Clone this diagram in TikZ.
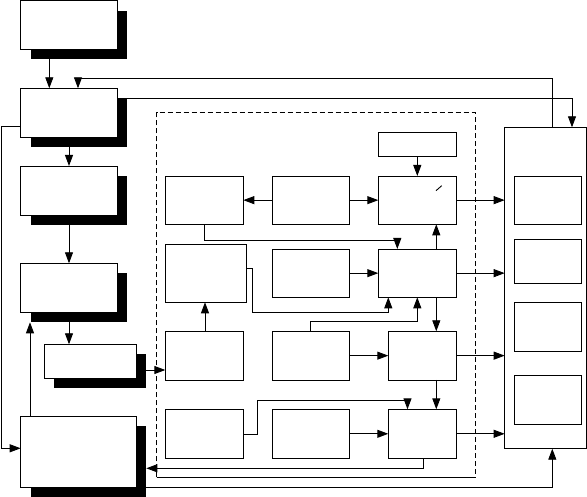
\documentclass[tikz,border=0pt]{standalone}
\usetikzlibrary{arrows.meta}

\begin{document}
\begin{tikzpicture}[x=1pt,y=-1pt,line width=0.9pt,
  blk/.style={draw=black,fill=white,inner sep=0pt,outer sep=0pt},
  shd/.style={fill=black,inner sep=0pt,outer sep=0pt},
  arr/.style={-{Triangle[length=11pt,width=8pt]}},
  frame/.style={dash pattern=on 5pt off 3pt}]
\def\blk#1#2#3#4#5{\node[blk,minimum width={(#4)-(#2)},minimum height={(#5)-(#3)}] (#1) at ({((#2)+(#4))/2},{((#3)+(#5))/2}) {};}
\def\sblk#1#2#3#4#5{\node[shd,minimum width={(#4)-(#2)},minimum height={(#5)-(#3)}] (#1s) at ({((#2)+(#4))/2+10},{((#3)+(#5))/2+10}) {};
  \blk{#1}{#2}{#3}{#4}{#5}}
\useasboundingbox (0,0) rectangle (587,497);
\sblk{A}{20.7}{0.7}{117.3}{49.3}
\sblk{B}{20.7}{88.3}{117.3}{137.3}
\sblk{C}{20.7}{166}{117.3}{215.3}
\sblk{D}{20.7}{263.3}{117.3}{312.3}
\sblk{E}{44.3}{344.3}{136.3}{378.3}
\sblk{F}{20.7}{416.3}{136.3}{487.3}
\draw[frame] (156.5,477.3) -- (156.5,112.5) -- (475,112.5) -- (475,477.3);
\draw (156.5,477.3) -- (475,477.3);
\blk{top}{378.3}{132.3}{456.3}{156.3}
\blk{m11}{165.3}{176}{243.3}{224.3}
\blk{m12}{272.3}{176}{349.3}{224.3}
\blk{m13}{378.3}{176}{456.3}{224.3}
\blk{m21}{165.3}{244.3}{246.3}{302.3}
\blk{m22}{272.3}{249}{349.3}{297.3}
\blk{m23}{378.3}{249}{456.3}{297.3}
\blk{m31}{165.3}{331.3}{243.3}{380}
\blk{m32}{272.3}{331.3}{349.3}{380}
\blk{m33}{388.3}{331.3}{456.3}{380}
\blk{m41}{165.3}{409.3}{243.3}{458.3}
\blk{m42}{272.3}{409.3}{349.3}{458.3}
\blk{m43}{388.3}{409.3}{456.3}{458.3}
\draw (436,190.7) -- (441.7,185.7);
\blk{out}{504.7}{127.3}{586}{448.7}
\blk{o1}{514.3}{176}{581.7}{224.3}
\blk{o2}{514.3}{239.3}{581.7}{283.3}
\blk{o3}{514.3}{302.3}{581.7}{351.3}
\blk{o4}{514.3}{375.3}{581.7}{424.3}

\draw[arr] (As.south -| 49.3,0) -- (B.north -| 49.3,0);
\draw[arr] (out.north -| 552.3,0) -- (552.3,78.3) -- (78,78.3) -- (B.north -| 78,0);
\draw[arr] (Bs.east |- 0,98.3) -- (572,98.3) -- (out.north -| 572,0);
\draw[arr] (Bs.south -| 69,0) -- (C.north -| 69,0);
\draw[arr] (Cs.south -| 69,0) -- (D.north -| 69,0);
\draw[arr] (Ds.south -| 69,0) -- (E.north -| 69,0);
\draw[arr] (B.west |- 0,126.7) -- (1.7,126.7) -- (1.7,448.3) -- (F.west |- 0,448.3);
\draw[arr] (F.north -| 30,0) -- (Ds.south -| 30,0);
\draw[arr] (Es.east |- 0,370) -- (m31.west |- 0,370);

\draw[arr] (m12) -- (m11);
\draw[arr] (m12) -- (m13);
\draw[arr] (m22) -- (m23);
\draw[arr] (m32) -- (m33);
\draw[arr] (m42) -- (m43);
\draw[arr] (top) -- (m13);
\draw[arr] (m23.north -| 436.3,0) -- (m13.south -| 436.3,0);
\draw[arr] (m23.south -| 436.3,0) -- (m33.north -| 436.3,0);
\draw[arr] (m33.south -| 436.3,0) -- (m43.north -| 436.3,0);
\draw[arr] (m11.south -| 204.3,0) -- (204.3,240.3) -- (397.3,240.3) -- (m23.north -| 397.3,0);
\draw[arr] (m31.north -| 205,0) -- (m21.south -| 205,0);
\draw[arr] (m21.east |- 0,268.3) -- (252.3,268.3) -- (252.3,312.3) -- (388.3,312.3) -- (m23.south -| 388.3,0);
\draw[arr] (m32.north -| 310.3,0) -- (310.3,321) -- (417.3,321) -- (m23.south -| 417.3,0);
\draw[arr] (m41.east |- 0,434.3) -- (257.3,434.3) -- (257.3,400) -- (407.5,400) -- (m43.north -| 407.5,0);
\draw[arr] (m43.south -| 423,0) -- (423,468.3) -- (Fs.east |- 0,468.3);
\draw[arr] (Fs.east |- 0,487.3) -- (552.3,487.3) -- (out.south -| 552.3,0);
\foreach \r in {1,...,4} \draw[arr] (m\r3) -- (m\r3 -| out.west);
\end{tikzpicture}
\end{document}
